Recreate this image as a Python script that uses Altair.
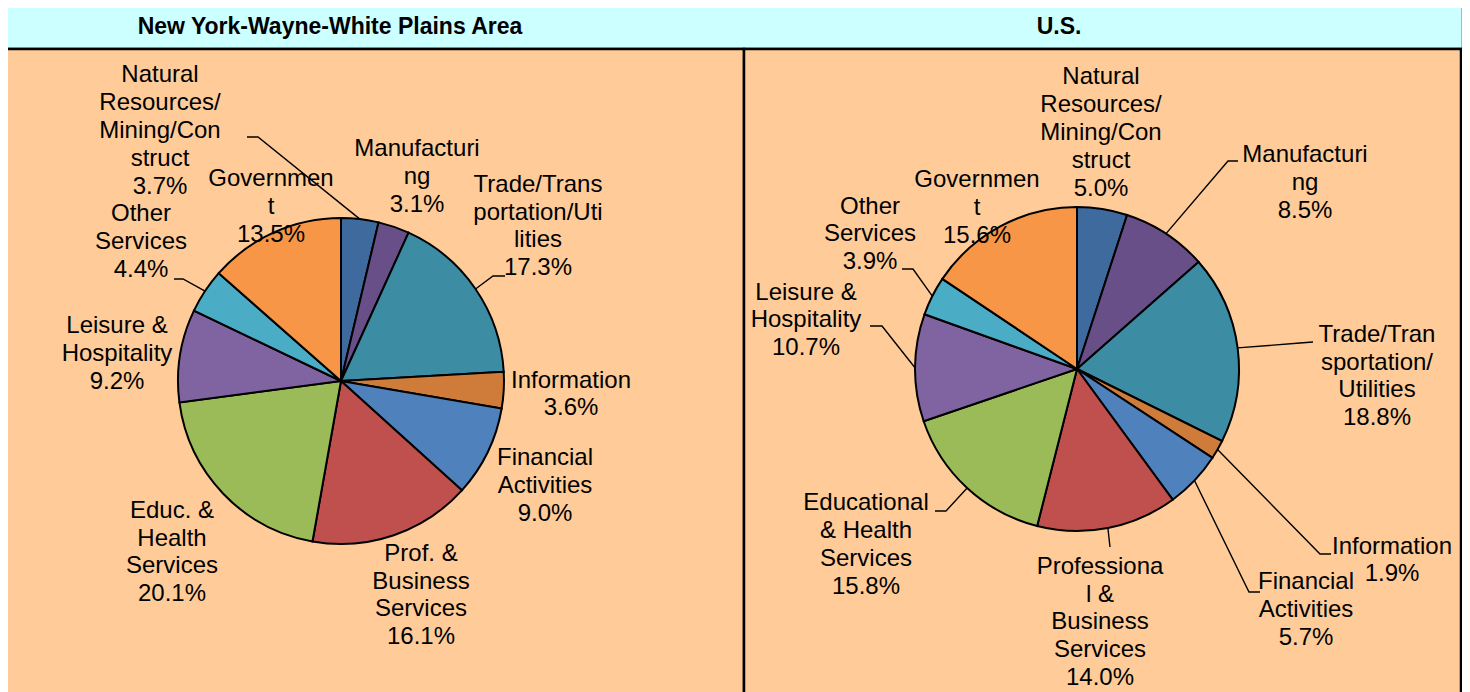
import math
import altair as alt
import pandas as pd

# ---------------- data ----------------
categories = [
    "Natural Resources/Mining/Construction", "Manufacturing",
    "Trade/Transportation/Utilities", "Information", "Financial Activities",
    "Professional & Business Services", "Educational & Health Services",
    "Leisure & Hospitality", "Other Services", "Government",
]
ny_values = [3.7, 3.1, 17.3, 3.6, 9.0, 16.1, 20.1, 9.2, 4.4, 13.5]
us_values = [5.0, 8.5, 18.8, 1.9, 5.7, 14.0, 15.8, 10.7, 3.9, 15.6]

ny_names = [
    "Natural\nResources/\nMining/Con\nstruct", "Manufacturi\nng",
    "Trade/Trans\nportation/Uti\nlities", "Information", "Financial\nActivities",
    "Prof. &\nBusiness\nServices", "Educ. &\nHealth\nServices",
    "Leisure &\nHospitality", "Other\nServices", "Governmen\nt",
]
us_names = [
    "Natural\nResources/\nMining/Con\nstruct", "Manufacturi\nng",
    "Trade/Tran\nsportation/\nUtilities", "Information", "Financial\nActivities",
    "Professiona\nl &\nBusiness\nServices", "Educational\n& Health\nServices",
    "Leisure &\nHospitality", "Other\nServices", "Governmen\nt",
]
panel_titles = ["New York-Wayne-White Plains Area", "U.S."]

colors = ["#3E6A9D", "#684F87", "#3C8CA4", "#CF7C3A", "#4F81BD",
          "#C0504D", "#9BBB59", "#8064A2", "#4BACC6", "#F79646"]

# ---------------- layout (pixel frame of the reference) ----------------
OX, OY = 8, 8
W, H = 1454, 684
FONT = "Liberation Sans"
LH = 27.8

pies = [
    dict(key="ny", cx=341, cy=381, r=163, values=ny_values, names=ny_names,
         labels=[(160, 131), (417, 177), (538, 226.5), (571, 394.5), (545, 486),
                 (421, 595.5), (172, 552.5), (117, 354), (141, 242), (271, 207)],
         leaders={0: [(258, 137), (247, 137)], 2: [(493, 276), (505, 276)],
                  8: [(183, 279), (174, 279)]}),
    dict(key="us", cx=1077, cy=369, r=162, values=us_values, names=us_names,
         labels=[(1101, 133), (1305, 183), (1377, 376.5), (1392, 560.5), (1306, 610),
                 (1100, 622.5), (866, 545), (806, 320.5), (870, 234.5), (977, 208)],
         leaders={1: [(1228, 161), (1238, 161)], 2: [(1300, 343), (1313, 342)],
                  3: [(1320, 554), (1331, 554)], 4: [(1249, 592), (1260, 592)],
                  5: [(1110, 547)], 6: [(946, 511), (935, 511)],
                  7: [(882, 326), (870, 326)], 8: [(913, 269), (902, 269)]}),
]

xs = alt.Scale(domain=[OX, OX + W], nice=False, zero=False)
ys = alt.Scale(domain=[OY, OY + H], nice=False, zero=False, reverse=True)

# panel frames
frames = pd.DataFrame([
    dict(x=5, x2=1463, y=3, y2=49, fill="#CCFFFF"),
    dict(x=6, x2=744, y=49, y2=700, fill="#FFCC99"),
    dict(x=744, x2=1461, y=49, y2=700, fill="#FFCC99"),
])
frame_layer = alt.Chart(frames).mark_rect(stroke="black", strokeWidth=2.5).encode(
    x=alt.X("x:Q", scale=xs, axis=None), x2="x2:Q",
    y=alt.Y("y:Q", scale=ys, axis=None), y2="y2:Q",
    fill=alt.Fill("fill:N", scale=None),
)

titles = pd.DataFrame(dict(t=panel_titles, x=[330, 1059], y=[27, 27]))
title_layer = alt.Chart(titles).mark_text(
    font=FONT, fontSize=23, fontWeight="bold", color="black", baseline="middle"
).encode(x=alt.X("x:Q", scale=xs), y=alt.Y("y:Q", scale=ys), text="t:N")

layers = [frame_layer, title_layer]
line_rows, text_rows = [], []
for p in pies:
    df = pd.DataFrame(dict(cat=categories, value=p["values"], idx=range(len(categories))))
    arc = alt.Chart(df).mark_arc(radius=p["r"], stroke="black", strokeWidth=2).encode(
        theta=alt.Theta("value:Q", stack=True),
        order=alt.Order("idx:Q"),
        color=alt.Color("cat:N", scale=alt.Scale(domain=categories, range=colors), legend=None),
        x=alt.value(p["cx"] - OX), y=alt.value(p["cy"] - OY),
    )
    layers.append(arc)
    total = sum(p["values"])
    cum = 0.0
    for i, v in enumerate(p["values"]):
        mid = 2 * math.pi * (cum + v / 2) / total
        cum += v
        ex = p["cx"] + p["r"] * math.sin(mid)
        ey = p["cy"] - p["r"] * math.cos(mid)
        if i in p["leaders"]:
            pts = [(ex, ey)] + p["leaders"][i]
            for s, (lx, ly) in enumerate(pts):
                line_rows.append(dict(k=f'{p["key"]}{i}', s=s, x=lx, y=ly))
        label = f'{p["names"][i]}\n{v:.1f}%'
        n = label.count("\n") + 1
        lx, ly = p["labels"][i]
        # first-line position so that the whole block is centred on (lx, ly)
        text_rows.append(dict(t=label, x=lx, y=ly - (n - 1) * LH / 2))

lines = alt.Chart(pd.DataFrame(line_rows)).mark_line(color="black", strokeWidth=1.4).encode(
    x=alt.X("x:Q", scale=xs), y=alt.Y("y:Q", scale=ys), detail="k:N", order="s:Q")
texts = alt.Chart(pd.DataFrame(text_rows)).mark_text(
    font=FONT, fontSize=24, lineHeight=LH, lineBreak="\n", color="black",
    align="center", baseline="middle"
).encode(x=alt.X("x:Q", scale=xs), y=alt.Y("y:Q", scale=ys), text="t:N")
layers += [lines, texts]

chart = alt.layer(*layers).resolve_scale(theta="independent").properties(
    width=W, height=H, padding=0,
    autosize=alt.AutoSizeParams(type="none"),
    background="white",
).configure_view(stroke=None)

chart.save("out.html", embed_options={"renderer": "svg", "actions": False})
